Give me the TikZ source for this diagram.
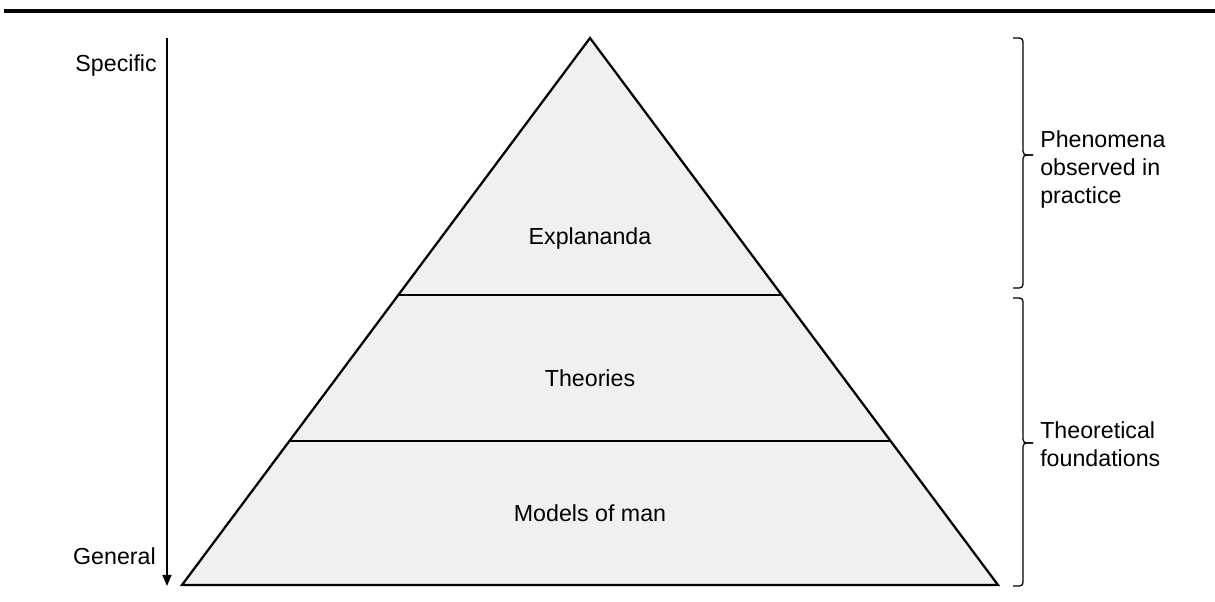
\documentclass[tikz,border=0pt]{standalone}
\usepackage{fontspec}
\setmainfont{Liberation Sans}
\definecolor{pyrfill}{HTML}{F0F0F0}
\usetikzlibrary{arrows.meta, positioning}

\begin{document}
\begin{tikzpicture}[x=0.025cm, y=-0.025cm,
    layer/.style={draw=black, line width=1.6pt, fill=pyrfill},
    cut/.style={draw=black, line width=1.6pt},
    lbl/.style={font=\fontsize{16.5}{20}\selectfont, text=black, inner sep=0pt},
    side/.style={lbl, align=left, anchor=north west},
    bracket/.style={draw=black, line width=0.9pt, rounded corners=2.5pt},
    arrow/.style={-{Triangle[length=8pt,width=6.5pt]}, line width=1.1pt}
  ]
  \useasboundingbox (0,0) rectangle (1215,601);

  % Top rule
  \draw[line width=2.8pt] (4,11) -- (1215,11);

  % Pyramid
  \coordinate (apex) at (590,38);
  \coordinate (bl) at (182,585);
  \coordinate (br) at (998,585);
  \filldraw[layer] (apex) -- (bl) -- (br) -- cycle;

  % Layer borders
  \coordinate (l1) at (398,295);
  \coordinate (r1) at (782,295);
  \coordinate (l2) at (289,441);
  \coordinate (r2) at (891,441);
  \draw[cut] (l1) -- (r1);
  \draw[cut] (l2) -- (r2);

  % Layer labels
  \node[lbl] (expl) at (590,238) {Explananda};
  \node[lbl] (theo) at (590,378) {Theories};
  \node[lbl] (models) at (590,513) {Models of man};

  % Specific to general
  \coordinate (top) at (167,38);
  \coordinate (bot) at (167,586);
  \draw[arrow] (top) -- (bot);
  \node[lbl, anchor=east] (spec) at (157,65) {Specific};
  \node[lbl, anchor=east] (gen) at (156,556) {General};

  % Brace: phenomena
  \coordinate (b1top) at (1013,38);
  \coordinate (b1bot) at (1013,288);
  \coordinate (b1tip) at (1033,155);
  \draw[bracket] (b1top) -| (1023,155) -- (b1tip);
  \draw[bracket] (b1bot) -| (1023,155) -- (b1tip);
  \node[side] (phen) at (1040,130) {Phenomena\\observed in\\practice};

  % Brace: foundations
  \coordinate (b2top) at (1013,298);
  \coordinate (b2bot) at (1013,586);
  \coordinate (b2tip) at (1033,443);
  \draw[bracket] (b2top) -| (1023,443) -- (b2tip);
  \draw[bracket] (b2bot) -| (1023,443) -- (b2tip);
  \node[side] (found) at (1040,421) {Theoretical\\foundations};
\end{tikzpicture}
\end{document}
